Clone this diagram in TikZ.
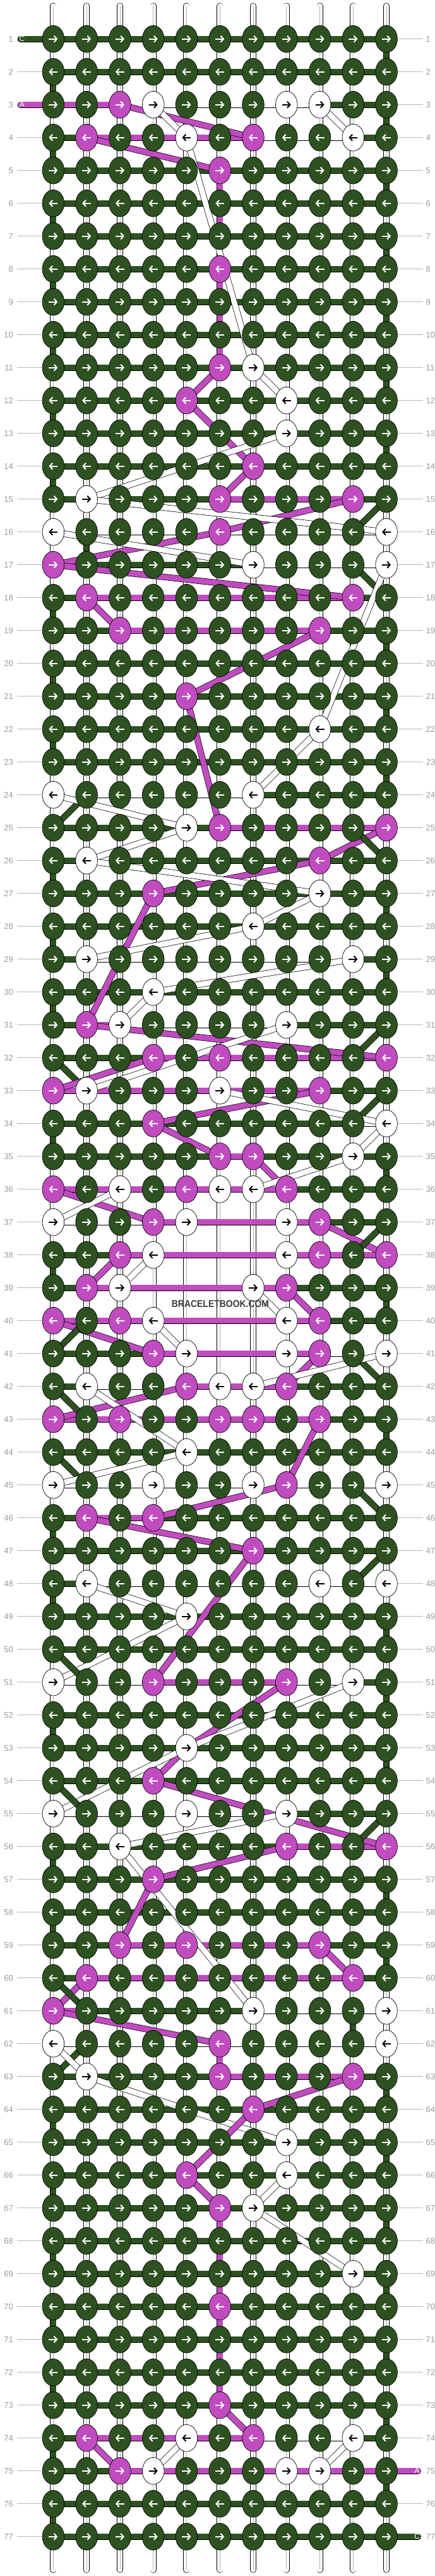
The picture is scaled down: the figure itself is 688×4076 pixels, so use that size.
\documentclass[tikz,border=0pt]{standalone}
\usepackage{fontspec}
\setmainfont{Liberation Sans}
\usepackage{xstring}
\usepackage{graphicx}
\usetikzlibrary{arrows.meta,shapes.geometric}

\definecolor{kG}{HTML}{2E5121}
\definecolor{kM}{HTML}{C04CC0}
\definecolor{kW}{HTML}{FFFFFF}
\definecolor{numgray}{HTML}{9A9A9A}
\definecolor{brandgray}{HTML}{3A3A3A}

\tikzset{
  thread/.style={draw=black, line width=0.7pt, double distance=8.6pt},
  core/.style={draw=black!30, line width=0.6pt},
  knot/.style={ellipse, draw=black, line width=0.7pt, minimum width=34.6pt, minimum height=42.6pt, inner sep=0pt},
  turn/.style={line width=2pt, -{Straight Barb[length=4.5pt,width=10pt]}},
  rownum/.style={text=numgray, font=\fontsize{13}{13}\selectfont, inner sep=0pt},
  numline/.style={draw=numgray!70, line width=0.9pt},
  endtag/.style={text=white, font=\fontsize{12}{12}\selectfont, inner sep=0pt},
  brand/.style={text=brandgray, font=\bfseries\fontsize{15.5}{15.5}\selectfont, inner sep=0pt}
}

% row / knots (G green, M magenta, W white, N none) / threads between knots
\def\rowdata{
1/GGGGGGGGGGG/GGGGGGGGGG,
2/GGGGGGGGGGG/GGGGGGGGGG,
3/GGMWGGGWWGG/MMWWWWWWGG,
4/GMGGWGMGGWG/GMMMMMWWWG,
5/GGGGGMGGGGG/GGGGGGGGGG,
6/GGGGGGGGGGG/GGGGGGGGGG,
7/GGGGGGGGGGG/GGGGGGGGGG,
8/GGGGGMGGGGG/GGGGGGGGGG,
9/GGGGGGGGGGG/GGGGGGGGGG,
10/GGGGGGGGGGG/GGGGGGGGGG,
11/GGGGGMWGGGG/GGGGGGGGGG,
12/GGGGMGGWGGG/GGGGGGGGGG,
13/GGGGGGGWGGG/GGGGGGGGGG,
14/GGGGGGMGGGG/GGGGGGGGGG,
15/GWGGGMGGGMG/GWGGGMMMMG,
16/WGGGGMGGGGW/WWWWWWWWWW,
17/MGGGGGWGGGW/MGGGGGWWWW,
18/GMGGGGGGGMG/GMMMMMMMMG,
19/GGMGGGGGMGG/GGMMMMMMGG,
20/GGGGGGGGGGG/GGGGGGGGGG,
21/GGGGMGGGGGG/GGGGGGGGGG,
22/GGGGGGGGWGG/GGGGGGGGGG,
23/GGGGGGGGGGG/GGGGGGGGGG,
24/WGGGGGWGGGG/WWWWWWGGGG,
25/GGGGWMGGGGM/GGGGGMMMMM,
26/GWGGGGGGMGG/GWGGGGGGGG,
27/GGGMGGGGWGG/GGGGGGGGGG,
28/GGGGGGWGGGG/GGGGGGGGGG,
29/GWGGGGGGGWG/GWWWWWWWWG,
30/GGGWGGGGGGG/GGGGGGGGGG,
31/GMWGGGGWGGG/GMWWWWWGGG,
32/GGGMGMGGGGM/GGGMMMMMMM,
33/MWGGGWGGMGG/MMMMMMMMGG,
34/GGGMGGGGGGW/GGGGGGGGGW,
35/GGGGGMMGGWG/GGGGGMGGGG,
36/MGWGMWWMGGG/MMMMMMMGGG,
37/WGGMWNNWMGG/WWWMMMMMGG,
38/GGMWNNNWMGM/GGMMMMMMMM,
39/GMWNNNWMGGG/GMMMMMMGGG,
40/MGMWNNNWMGG/MMMMMMMMGG,
41/GGGMWNNWMGW/GGGMMMMMWW,
42/GWGGMWWMGGG/GWWWMMMGGG,
43/MGMGGMMGMGG/MMMMMMMMGG,
44/GGGGWGGGGGG/GGGGGGGGGG,
45/WGGWGGWMGGW/WWWWWWWWWW,
46/GMGMGGGGGGG/GMMGGGGGGG,
47/GGGGGGMGGGG/GGGGGGGGGG,
48/GWGGGGGGWGW/GWWWWWWWWW,
49/GGGGWGGGGGG/GGGGGGGGGG,
50/GGGGGGGGGGG/GGGGGGGGGG,
51/WGGMGGGMGWG/WWWMMMMWWG,
52/GGGGGGGGGGG/GGGGGGGGGG,
53/GGGGWGGGGGG/GGGGGGGGGG,
54/GGGMGGGGGGG/GGGGGGGGGG,
55/WGGGWGGWGGG/WWWWWWWGGG,
56/GGWGGGGMGGM/GGGGGGGMMM,
57/GGGMGGGGGGG/GGGGGGGGGG,
58/GGGGGGGGGGG/GGGGGGGGGG,
59/GGMGMGGGMGG/GGMMMMMMGG,
60/GMGGGGGGGMG/GMMMMMMMMG,
61/MGGGGGWGGGW/MGGGGGWWWW,
62/WGGGGMGGGGW/WWWWWWWWWW,
63/GWGGGMGGGMG/GGGGGMMMMG,
64/GGGGGGMGGGG/GGGGGGGGGG,
65/GGGGGGGWGGG/GGGGGGGGGG,
66/GGGGMGGWGGG/GGGGGGGGGG,
67/GGGGGMWGGGG/GGGGGGGGGG,
68/GGGGGGGGGGG/GGGGGGGGGG,
69/GGGGGGGGGWG/GGGGGGGGGG,
70/GGGGGMGGGGG/GGGGGGGGGG,
71/GGGGGGGGGGG/GGGGGGGGGG,
72/GGGGGGGGGGG/GGGGGGGGGG,
73/GGGGGMGGGGG/GGGGGGGGGG,
74/GMGGWGMGGWG/GMMMMMWWWG,
75/GGMWGGGWWGG/GGMMMMMMMM,
76/GGGGGGGGGGG/GGGGGGGGGG,
77/GGGGGGGGGGG/GGGGGGGGGG}

% threads that skip across: row/col -- row/col
\def\diagdata{3/3/4/7/kM, 3/4/4/5/kW, 3/9/4/10/kW, 4/2/5/6/kM, 4/5/11/7/kW,
11/6/12/5/kM, 11/7/12/8/kW, 12/5/14/7/kM, 13/8/15/2/kW, 14/7/15/6/kM,
15/10/16/6/kM, 16/6/17/1/kM, 15/11/16/10/kG, 15/2/16/11/kW, 16/1/17/7/kW,
17/1/18/10/kM, 17/10/18/11/kG, 17/11/22/9/kW, 18/2/19/3/kM, 19/9/21/5/kM,
21/5/25/6/kM, 22/9/24/7/kW, 24/2/25/1/kG, 24/1/25/5/kW, 25/5/26/2/kW,
25/11/26/9/kM, 25/10/26/11/kG, 26/9/27/4/kM, 26/2/27/9/kW, 27/4/31/2/kM,
27/9/28/7/kW, 28/7/29/2/kW, 29/10/30/4/kW, 30/4/31/3/kW, 31/2/32/11/kM,
31/11/32/10/kG, 31/8/33/2/kW, 32/1/33/2/kG, 32/4/33/1/kM, 33/9/34/4/kM,
33/11/34/10/kG, 33/6/34/11/kW, 34/4/35/6/kM, 34/11/35/10/kW, 35/7/36/8/kM,
35/10/36/7/kW, 36/1/37/4/kM, 36/3/37/1/kW, 37/9/38/11/kM, 37/11/38/10/kG,
38/3/39/2/kM, 38/4/39/3/kW, 39/8/40/9/kM, 39/7/40/8/kW, 40/1/41/4/kM,
40/2/41/1/kG, 40/4/41/5/kW, 41/9/42/8/kM, 41/10/42/11/kG, 41/11/42/7/kW,
42/5/43/1/kM, 42/1/43/2/kG, 42/2/44/5/kW, 43/9/45/8/kM, 44/1/45/2/kG,
44/5/45/1/kW, 45/8/46/4/kM, 45/10/46/11/kG, 46/2/47/7/kM, 47/7/51/4/kM,
47/11/48/10/kG, 48/2/49/5/kW, 49/5/51/1/kW, 50/1/51/2/kG, 51/8/53/5/kM,
51/10/53/5/kW, 53/5/54/4/kM, 53/5/55/1/kW, 54/4/56/11/kM, 54/1/55/2/kG,
55/8/56/3/kW, 55/11/56/10/kG, 56/8/57/4/kM, 56/3/61/7/kW, 57/4/59/3/kM,
59/9/60/10/kM, 60/2/61/1/kM, 60/1/61/2/kG, 61/1/62/6/kM, 62/2/63/1/kG,
62/1/63/2/kW, 63/10/64/7/kM, 63/2/65/8/kW, 64/7/66/5/kM, 66/5/67/6/kM,
66/8/67/7/kW, 67/7/69/10/kW, 73/6/74/7/kM, 74/2/75/3/kM, 74/5/75/4/kW,
74/10/75/9/kW}

\begin{document}
\begin{tikzpicture}[x=1pt, y=-1pt]
\useasboundingbox (0,0) rectangle (688,4076);

% grid of knot places
\foreach \r in {1,...,77}
  \foreach \c in {1,...,11}
    \coordinate (k-\r-\c) at ({84.4+52.77*(\c-1)},{61.7+52*(\r-1)});

% row numbers
\foreach \r in {1,...,77}{
  \pgfmathsetmacro\yy{61.7+52*(\r-1)}
  \node[rownum, anchor=east] (ln-\r) at (21,\yy) {\r};
  \node[rownum, anchor=west] (rn-\r) at (674.5,\yy) {\r};
  \coordinate (lt-\r) at (26.7,\yy);
  \coordinate (rt-\r) at (670,\yy);
  \ifnum\r=1 \else\ifnum\r=3 \else \draw[numline] (lt-\r) -- (k-\r-1); \fi\fi
  \ifnum\r=75 \else\ifnum\r=77 \else \draw[numline] (k-\r-11) -- (rt-\r); \fi\fi
}

% loose ends top and bottom
\foreach \c in {1,...,11}{
  \pgfmathsetmacro\xx{84.4+52.77*(\c-1)}
  \coordinate (top-\c) at (\xx,9.5);
  \coordinate (bot-\c) at (\xx,4066);
  \draw[thread, double=white, line cap=round] (top-\c) -- (k-1-\c);
  \draw[core] (top-\c) -- (k-1-\c);
  \draw[thread, double=white, line cap=round] (k-77-\c) -- (bot-\c);
  \draw[core] (k-77-\c) -- (bot-\c);
}

% threads coming in and going out
\coordinate (in-C) at (32.5,61.7);
\coordinate (in-A) at (32.5,165.7);
\coordinate (out-A) at (662,3909.7);
\coordinate (out-C) at (662,4013.7);
\draw[thread, double=kG, line cap=round] (in-C) -- (k-1-1);
\draw[thread, double=kM, line cap=round] (in-A) -- (k-3-1);
\draw[thread, double=kM, line cap=round] (k-75-11) -- (out-A);
\draw[thread, double=kG, line cap=round] (k-77-11) -- (out-C);
\node[endtag] (tag-C1) at (35,61.7) {C};
\node[endtag] (tag-A1) at (35,165.7) {A};
\node[endtag] (tag-A2) at (660.5,3909.7) {A};
\node[endtag] (tag-C2) at (660.5,4013.7) {C};

% vertical threads
\foreach \r in {1,...,76}{
  \pgfmathtruncatemacro\rr{\r+1}
  \foreach \c in {1,...,11}{
    \draw[thread, double=white] (k-\r-\c) -- (k-\rr-\c);
    \draw[core] (k-\r-\c) -- (k-\rr-\c);
  }
  \ifodd\r
    \draw[thread, double=kG] (k-\r-11) -- (k-\rr-11);
  \else
    \draw[thread, double=kG] (k-\r-1) -- (k-\rr-1);
  \fi
}
\foreach \r/\c in {15/11, 16/1, 17/11, 24/1, 25/11, 31/11, 32/1, 33/11, 36/1, 37/11,
    40/1, 41/11, 42/1, 44/1, 45/11, 47/11, 50/1, 54/1, 55/11, 60/1, 61/11, 62/1}{
  \pgfmathtruncatemacro\rr{\r+1}
  \draw[thread, double=white] (k-\r-\c) -- (k-\rr-\c);
  \draw[core] (k-\r-\c) -- (k-\rr-\c);
}
\foreach \r/\c/\col in {16/2/kG, 61/10/kG, 5/6/kM, 6/6/kM, 7/6/kM, 8/6/kM, 9/6/kM,
    10/6/kM, 62/6/kM, 67/6/kM, 68/6/kM, 69/6/kM, 70/6/kM, 71/6/kM, 72/6/kM}{
  \pgfmathtruncatemacro\rr{\r+1}
  \draw[thread, double=\col] (k-\r-\c) -- (k-\rr-\c);
}

% horizontal threads
\foreach \r/\ks/\hs in \rowdata{
  \foreach \c in {1,...,10}{
    \StrChar{\hs}{\c}[\hc]
    \edef\hcol{k\hc}
    \pgfmathtruncatemacro\cc{\c+1}
    \draw[thread, double=\hcol] (k-\r-\c) -- (k-\r-\cc);
  }
}

% skipping threads
\foreach \ra/\ca/\rb/\cb/\col in \diagdata
  \draw[thread, double=\col] (k-\ra-\ca) -- (k-\rb-\cb);

% knots
\foreach \r/\ks/\hs in \rowdata{
  \foreach \c in {1,...,11}{
    \StrChar{\ks}{\c}[\kc]
    \IfStrEq{\kc}{N}{}{
      \edef\kcol{k\kc}
      \IfStrEq{\kc}{W}{\def\acol{black}}{\def\acol{white}}
      \node[knot, fill=\kcol] (n-\r-\c) at (k-\r-\c) {};
      \ifodd\r
        \draw[turn, draw=\acol] ([xshift=-7pt]n-\r-\c.center) -- ([xshift=7pt]n-\r-\c.center);
      \else
        \draw[turn, draw=\acol] ([xshift=7pt]n-\r-\c.center) -- ([xshift=-7pt]n-\r-\c.center);
      \fi
    }
  }
}

\node[brand] (mark) at (349,2063.3) {\scalebox{0.9}[1]{BRACELETBOOK.COM}};

\end{tikzpicture}
\end{document}
